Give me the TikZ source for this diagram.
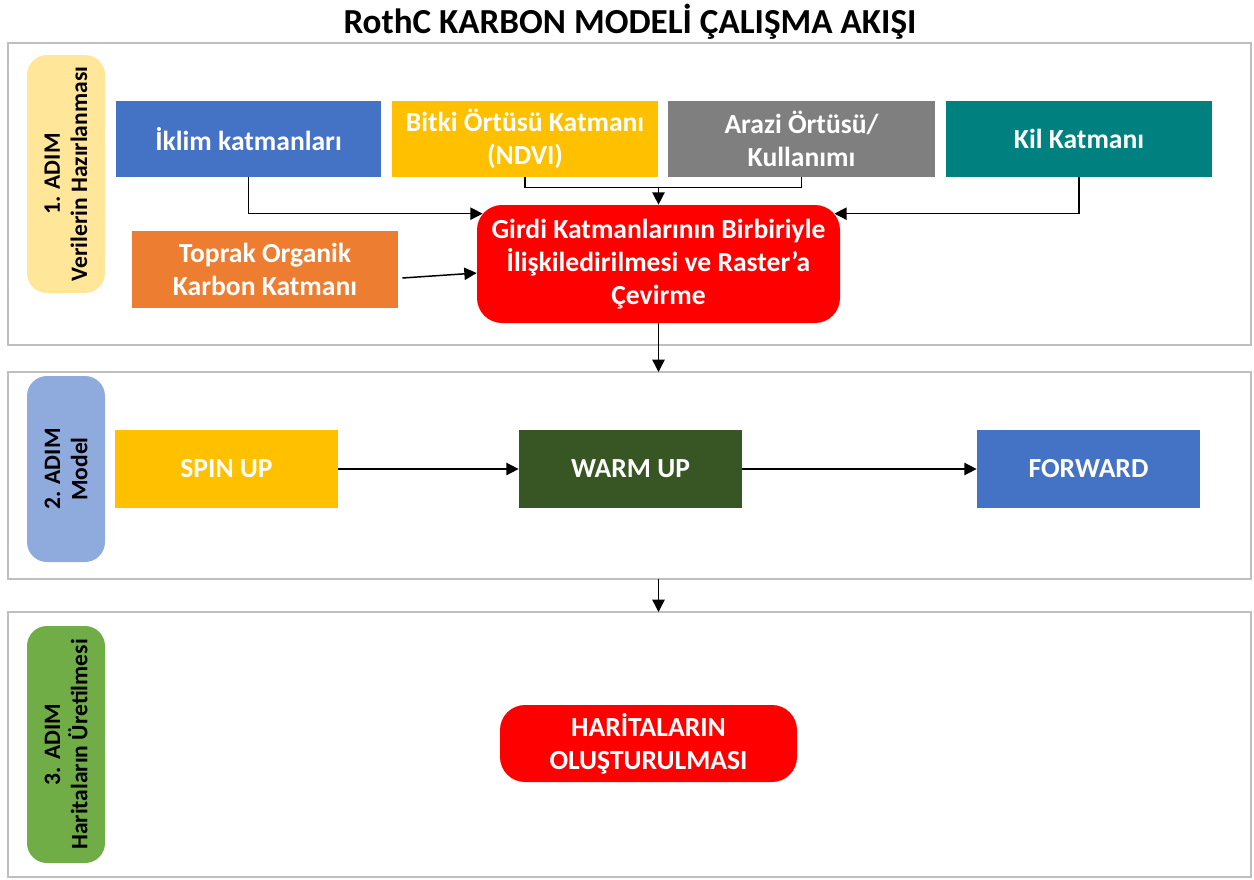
\documentclass[tikz,border=0pt]{standalone}
\usepackage{fontspec}
\setmainfont{Carlito}
\usetikzlibrary{arrows.meta,calc}
\newcommand{\pu}{0.02cm}
\definecolor{cblue}{HTML}{4472C4}
\definecolor{cgold}{HTML}{FFC000}
\definecolor{cgray}{HTML}{7F7F7F}
\definecolor{cteal}{HTML}{00807F}
\definecolor{corange}{HTML}{ED7D31}
\definecolor{cred}{HTML}{FF0000}
\definecolor{cdgreen}{HTML}{375623}
\definecolor{clab1}{HTML}{FFE699}
\definecolor{clab2}{HTML}{8FAADC}
\definecolor{clab3}{HTML}{70AD47}
\definecolor{cpanel}{HTML}{BFBFBF}
\begin{document}
\begin{tikzpicture}[x=0.02cm,y=-0.02cm,
  box/.style={inner sep=0pt,align=center,text=white,
    font=\fontsize{15.7}{18.8}\selectfont\bfseries},
  redbox/.style={box,fill=cred,rounded corners=25*\pu},
  lab/.style={inner sep=0pt,align=center,rotate=90,rounded corners=20*\pu,
    minimum height=78*\pu,text=black,font=\fontsize{13.4}{15.5}\selectfont\bfseries},
  panel/.style={draw=cpanel,line width=1.2pt},
  conn/.style={line width=0.85pt,black},
  arr/.style={conn,-{Triangle[length=7pt,width=7pt]}}]
\useasboundingbox (0,0) rectangle (1254,879);
\node[font=\fontsize{20}{24}\selectfont\bfseries] (title) at (630,22) {RothC KARBON MODELİ ÇALIŞMA AKIŞI};
% panels
\draw[panel] (8,43) rectangle (1251,345);
\draw[panel] (8,372) rectangle (1251,579);
\draw[panel] (8,612) rectangle (1251,877);
% step labels
\node[lab,fill=clab1,minimum width=238*\pu] (l1) at (66,174) {1. ADIM\\Verilerin Hazırlanması};
\node[lab,fill=clab2,minimum width=186*\pu] (l2) at (66,469) {2. ADIM\\Model};
\node[lab,fill=clab3,minimum width=237*\pu] (l3) at (66,744.5) {3. ADIM\\Haritaların Üretilmesi};
% step 1 boxes
\node[box,fill=cblue,minimum width=265*\pu,minimum height=76*\pu] (iklim) at (248.5,139) {İklim katmanları};
\node[box,fill=cgold,minimum width=266*\pu,minimum height=76*\pu] (bitki) at (525,139) {Bitki Örtüsü Katmanı\\(NDVI)};
\node[box,fill=cgray,minimum width=267*\pu,minimum height=76*\pu] (arazi) at (801.5,139) {Arazi Örtüsü/\\Kullanımı};
\node[box,fill=cteal,minimum width=266*\pu,minimum height=76*\pu] (kil) at (1079,139) {Kil Katmanı};
\node[box,fill=corange,minimum width=266*\pu,minimum height=77*\pu] (toprak) at (265,269.5) {Toprak Organik\\Karbon Katmanı};
\node[redbox,minimum width=363*\pu,minimum height=118*\pu] (girdi) at (658.5,264) {Girdi Katmanlarının Birbiriyle\\İlişkiledirilmesi ve Raster’a\\Çevirme};
% step 2 boxes
\node[box,fill=cgold,minimum width=223*\pu,minimum height=78*\pu] (spin) at (226.5,469) {SPIN UP};
\node[box,fill=cdgreen,minimum width=223*\pu,minimum height=78*\pu] (warm) at (630.5,469) {WARM UP};
\node[box,fill=cblue,minimum width=223*\pu,minimum height=78*\pu] (forward) at (1088.5,469) {FORWARD};
% step 3 box
\node[redbox,minimum width=297*\pu,minimum height=77*\pu] (harita) at (648.5,743.5) {HARİTALARIN\\OLUŞTURULMASI};
% connectors step 1
\coordinate (mrg) at ($(bitki.south)+(0,10)$);
\draw[conn] (bitki.south) |- (arazi.south |- mrg) -- (arazi.south);
\draw[arr] (girdi.north |- mrg) -- (girdi.north);
\draw[arr] (iklim.south) |- ($(girdi.north west)+(6,9)$);
\draw[arr] (kil.south) |- ($(girdi.north east)+(-6,9)$);
\draw[arr] ($(toprak.east)+(4,8.5)$) -- ($(girdi.west)+(0,9)$);
% between panels
\coordinate (p2top) at (girdi.south |- 0,372);
\draw[arr] (girdi.south) -- (p2top);
\coordinate (p2bot) at (girdi.south |- 0,579);
\coordinate (p3top) at (girdi.south |- 0,612);
\draw[arr] (p2bot) -- (p3top);
% step 2 connectors
\draw[arr] (spin.east) -- (warm.west);
\draw[arr] (warm.east) -- (forward.west);
\end{tikzpicture}
\end{document}
